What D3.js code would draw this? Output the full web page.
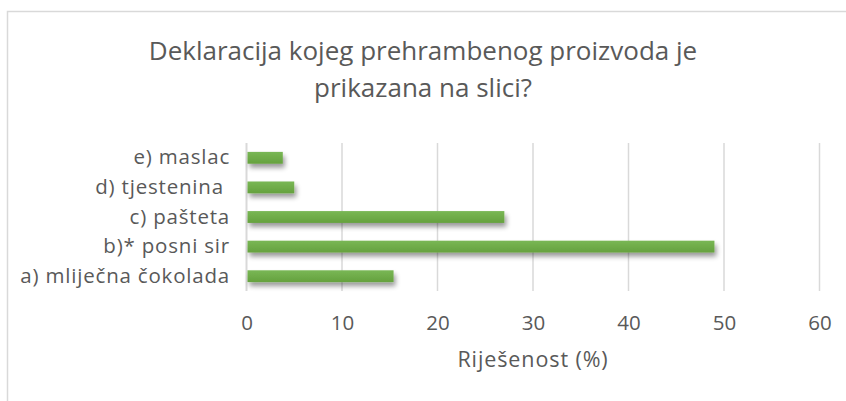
<!DOCTYPE html>
<html><head><meta charset="utf-8">
<script src="https://cdn.jsdelivr.net/npm/d3@7/dist/d3.min.js"></script>
<style>
html,body{margin:0;padding:0;background:#fff;}
svg{display:block;font-family:"Open Sans",sans-serif;}
</style></head>
<body>
<script>
const categories = ["a) mliječna čokolada", "b)* posni sir", "c) pašteta", "d) tjestenina ", "e) maslac"];
const values = [15.4, 49, 27, 5, 3.8];
const tickValues = [0, 10, 20, 30, 40, 50, 60];
const titleLines = ["Deklaracija kojeg prehrambenog proizvoda je", "prikazana na slici?"];
const axisTitle = "Riješenost (%)";

const W = 846, H = 401;
const svg = d3.select("body").append("svg").attr("width", W).attr("height", H);

const defs = svg.append("defs");
const grad = defs.append("linearGradient").attr("id","barGrad").attr("x1",0).attr("y1",0).attr("x2",0).attr("y2",1);
grad.append("stop").attr("offset","0%").attr("stop-color","#79b755");
grad.append("stop").attr("offset","100%").attr("stop-color","#65a13e");
const f = defs.append("filter").attr("id","shadow").attr("x","-10%").attr("y","-60%").attr("width","130%").attr("height","280%");
f.append("feGaussianBlur").attr("in","SourceAlpha").attr("stdDeviation",2.6);
f.append("feOffset").attr("dx",2).attr("dy",3.5).attr("result","ob");
f.append("feComponentTransfer").append("feFuncA").attr("type","linear").attr("slope",0.4);
const m = f.append("feMerge"); m.append("feMergeNode"); m.append("feMergeNode").attr("in","SourceGraphic");

// chart border
svg.append("path").attr("d", `M7.5,${H} V11.5 H${W}`).attr("fill","none").attr("stroke","#d9d9d9").attr("stroke-width",1.5);

const x = d3.scaleLinear().domain([0,60]).range([246.5, 819.5]);
const y = d3.scaleBand().domain(categories.slice().reverse()).range([143, 291]).paddingInner(0.6).paddingOuter(0.3);

// gridlines
svg.append("g").selectAll("line").data(tickValues).join("line")
  .attr("x1", d=>x(d)).attr("x2", d=>x(d)).attr("y1",143).attr("y2",291)
  .attr("stroke","#d9d9d9").attr("stroke-width", d=> d===0?2:1.5);

// bars
svg.append("g").selectAll("rect").data(categories).join("rect")
  .attr("x", x(0)+1).attr("y", d=>y(d))
  .attr("width", (d,i)=>x(values[i])-x(0)-1).attr("height", y.bandwidth())
  .attr("fill","url(#barGrad)").attr("filter","url(#shadow)");

// x tick labels
const xa = d3.axisBottom(x).tickValues(tickValues).tickSize(0).tickPadding(0);
const gx = svg.append("g").attr("transform","translate(0,330)").call(xa);
gx.select(".domain").remove();
gx.selectAll("text").attr("font-size",20.5).attr("fill","#595959").attr("font-family","Open Sans").attr("dy","0");

// y labels
const ya = d3.axisLeft(y).tickSize(0).tickPadding(0);
const gy = svg.append("g").attr("transform","translate(230,0)").call(ya);
gy.select(".domain").remove();
gy.selectAll("text").attr("font-size",20.5).attr("letter-spacing",0.8).attr("fill","#595959").attr("font-family","Open Sans").attr("xml:space","preserve").style("white-space","pre");

// title
svg.append("g").selectAll("text").data(titleLines).join("text")
  .attr("x", 423).attr("y",(d,i)=>60+i*37).attr("text-anchor","middle")
  .attr("font-size",26).attr("fill","#595959").text(d=>d);

svg.append("text").attr("x",533).attr("y",367).attr("text-anchor","middle")
  .attr("font-size",21.5).attr("letter-spacing",0.9).attr("fill","#595959").text(axisTitle);
</script>
</body></html>
